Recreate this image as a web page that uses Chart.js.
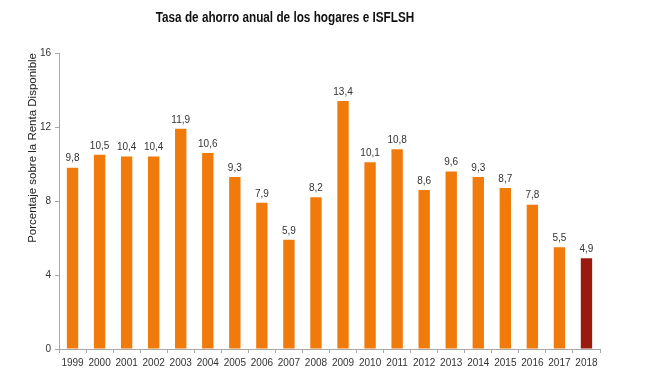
<!DOCTYPE html>
<html>
<head>
<meta charset="utf-8">
<script src="https://cdn.jsdelivr.net/npm/chart.js@4.4.1/dist/chart.umd.min.js"></script>
<style>
  body { margin: 0; background: #fff; }
  #wrap { position: relative; width: 660px; height: 386px; }
  #title {
    position: absolute; left: 85px; top: 9px; width: 400px;
    text-align: center; white-space: nowrap;
    font: bold 14px "Liberation Sans", Arial, sans-serif;
    color: #111; line-height: 16px;
    transform: scaleX(0.84); transform-origin: 200px 0;
  }
</style>
</head>
<body>
<div id="wrap">
  <div id="title">Tasa de ahorro anual de los hogares e ISFLSH</div>
  <canvas id="chart" width="660" height="386"></canvas>
</div>
<script>
const years = ["1999","2000","2001","2002","2003","2004","2005","2006","2007","2008",
               "2009","2010","2011","2012","2013","2014","2015","2016","2017","2018"];
const savingRate = [9.8, 10.5, 10.4, 10.4, 11.9, 10.6, 9.3, 7.9, 5.9, 8.2,
                    13.4, 10.1, 10.8, 8.6, 9.6, 9.3, 8.7, 7.8, 5.5, 4.9];
const yTicks = [0, 4, 8, 12, 16];

const FONT = '"Liberation Sans", Arial, sans-serif';
const orange = '#f07a0a';
const darkRed = '#9b1a0e';
const barColors = savingRate.map((v, i) => i === savingRate.length - 1 ? darkRed : orange);

// value labels above each bar
const valueLabels = {
  id: 'valueLabels',
  afterDatasetsDraw(chart) {
    const ctx = chart.ctx;
    const meta = chart.getDatasetMeta(0);
    ctx.save();
    ctx.font = '10px ' + FONT;
    ctx.fillStyle = '#333';
    ctx.textAlign = 'center';
    ctx.textBaseline = 'bottom';
    meta.data.forEach((bar, i) => {
      ctx.fillText(savingRate[i].toFixed(1).replace('.', ','), bar.x, bar.y - 4);
    });
    ctx.restore();
  }
};

new Chart(document.getElementById('chart'), {
  type: 'bar',
  data: {
    labels: years,
    datasets: [{
      data: savingRate,
      backgroundColor: barColors,
      barPercentage: 0.42,
      categoryPercentage: 1
    }]
  },
  options: {
    responsive: false,
    animation: false,
    layout: { padding: { top: 53, right: 60, bottom: 0, left: 0 } },
    plugins: { legend: { display: false }, tooltip: { enabled: false } },
    scales: {
      x: {
        afterFit(s) { s.height = 37; },
        grid: { display: true, drawOnChartArea: false, offset: true, tickLength: 4, color: '#a8a8a8' },
        border: { color: '#a8a8a8' },
        ticks: { font: { size: 10, family: FONT }, color: '#333', padding: 4, maxRotation: 0, autoSkip: false }
      },
      y: {
        min: 0, max: 16,
        afterFit(s) { s.width = 59; },
        afterBuildTicks(s) { s.ticks = yTicks.map(v => ({ value: v })); },
        grid: { display: true, drawOnChartArea: false, tickLength: 4, color: '#a8a8a8' },
        border: { color: '#a8a8a8' },
        ticks: { font: { size: 10, family: FONT }, color: '#333', padding: 4 },
        title: {
          display: true, text: 'Porcentaje sobre la Renta Disponible', align: 'end',
          font: { size: 11.5, family: FONT }, color: '#222', padding: { top: 26, bottom: 0 }
        }
      }
    }
  },
  plugins: [valueLabels]
});
</script>
</body>
</html>
